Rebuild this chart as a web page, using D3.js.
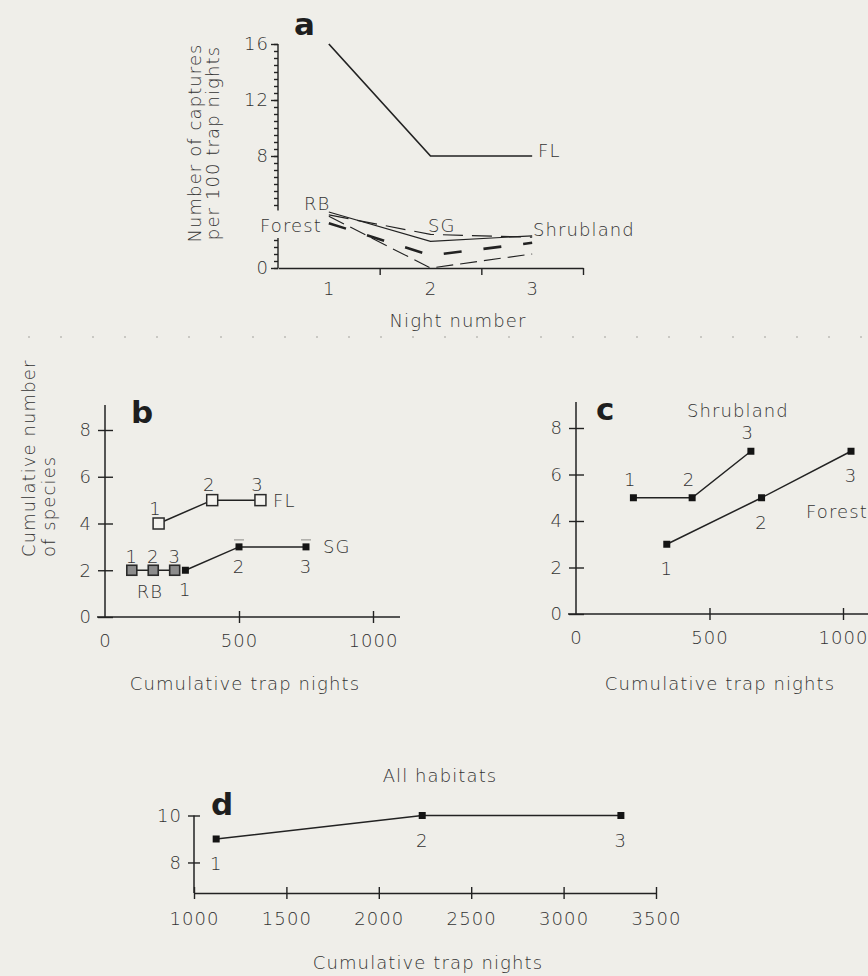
<!DOCTYPE html>
<html>
<head>
<meta charset="utf-8">
<script src="https://cdn.jsdelivr.net/npm/d3@7"></script>
<style>
  html, body { margin: 0; padding: 0; background: #efeee9; }
  svg { display: block; }
  text { font-family: "DejaVu Sans", sans-serif; font-weight: 200; fill: #333; letter-spacing: 1.1px; }
  .panel { font-family: "DejaVu Sans", sans-serif; font-weight: bold; fill: #1e1e1e; letter-spacing: 0; }
</style>
</head>
<body>
<script>
// ---- data ----
var nights = [1, 2, 3];
var capFL = [16, 8, 8];
var capShrub = [4.0, 1.9, 2.3];
var capSG = [3.8, 2.4, 2.2];
var capRB = [3.7, 0, 1.0];
var capForest = [3.2, 0.9, 1.8];

var bTrapFL = [200, 400, 580],  bSpFL = [4, 5, 5];
var bTrapRB = [100, 180, 260],  bSpRB = [2, 2, 2];
var bTrapSG = [300, 500, 750],  bSpSG = [2, 3, 3];

var cTrapShrub = [215, 435, 655],   cSpShrub = [5, 5, 7];
var cTrapForest = [340, 695, 1030], cSpForest = [3, 5, 7];

var dTrapAll = [1120, 2235, 3310], dSpAll = [9, 10, 10];

var aYLabels = [0, 8, 12, 16];
var aXLabels = [1, 2, 3];
var bcXTicks = [0, 500, 1000];
var bcYTicks = [0, 2, 4, 6, 8];
var dXTicks = [1000, 1500, 2000, 2500, 3000, 3500];
var dYTicks = [8, 10];

var ink = "#222";
var fs = 18;
var plain = d3.format("d");

var svg = d3.select("body").append("svg")
            .attr("width", 868)
            .attr("height", 976);

svg.append("rect").attr("width", 868).attr("height", 976).attr("fill", "#efeee9");

// faint dotted separator from the scan
svg.append("line")
   .attr("x1", 28).attr("x2", 868).attr("y1", 337).attr("y2", 337)
   .attr("stroke", "#c9c8c3").attr("stroke-width", 2)
   .attr("stroke-dasharray", "2,30");

function styleAxis(g) {
  g.selectAll("path, line").attr("stroke", ink).attr("stroke-width", 1.4);
  g.selectAll("text").attr("font-family", "DejaVu Sans, sans-serif")
   .attr("font-weight", 200).attr("font-size", fs).attr("fill", "#333");
}

function pts(xs, ys) { return xs.map(function(d, i) { return [d, ys[i]]; }); }

function label(x, y, str, anchor) {
  return svg.append("text").attr("x", x).attr("y", y).attr("font-size", fs)
            .attr("text-anchor", anchor || "start").text(str);
}

// ================= panel a =================
var xA = d3.scaleLinear().domain([0.5, 3.5]).range([278, 583]);
var yA = d3.scaleLinear().domain([0, 16]).range([268, 44]);

// x axis (ticks between nights, labels at nights)
svg.append("g").attr("transform", "translate(0,268)")
   .call(d3.axisBottom(xA).tickValues([1.5, 2.5, 3.5]).tickSize(7).tickSizeOuter(0).tickFormat(""))
   .call(styleAxis);
svg.append("g").attr("transform", "translate(0,268)")
   .call(d3.axisBottom(xA).tickValues(aXLabels).tickSize(0).tickPadding(14).tickFormat(plain))
   .call(function(g){ g.select(".domain").remove(); })
   .call(styleAxis);

// broken y axis with minor ticks
var minorUp = d3.range(4.5, 16.01, 0.5), minorLow = d3.range(0, 2.01, 0.5);
svg.append("g").attr("transform", "translate(278,0)")
   .call(d3.axisLeft(yA).tickValues(minorUp.concat(minorLow)).tickSize(4).tickFormat(""))
   .call(function(g){ g.select(".domain").remove(); })
   .call(styleAxis);
svg.append("g").attr("transform", "translate(278,0)")
   .call(d3.axisLeft(yA).tickValues(aYLabels).tickSize(7).tickPadding(2).tickFormat(plain))
   .call(function(g){ g.select(".domain").remove(); })
   .call(styleAxis);
[[16, 4.1], [2.15, 0]].forEach(function(s) {
  svg.append("line").attr("x1", 278).attr("x2", 278)
     .attr("y1", yA(s[0])).attr("y2", yA(s[1]))
     .attr("stroke", ink).attr("stroke-width", 1.4);
});

var lineA = d3.line().x(function(d){ return xA(d[0]); }).y(function(d){ return yA(d[1]); });
var aSeries = [
  {v: capFL,     w: 1.7, dash: null},
  {v: capShrub,  w: 1.2, dash: null},
  {v: capSG,     w: 1.2, dash: "20,9"},
  {v: capRB,     w: 1.1, dash: "17,7"},
  {v: capForest, w: 2.6, dash: "18,22"}
];
aSeries.forEach(function(s) {
  svg.append("path").datum(pts(nights, s.v))
     .attr("d", lineA).attr("fill", "none")
     .attr("stroke", ink).attr("stroke-width", s.w)
     .attr("stroke-dasharray", s.dash);
});

svg.append("text").attr("class", "panel").attr("x", 294).attr("y", 35).attr("font-size", 31).text("a");
label(538, 157, "FL");
label(533, 236, "Shrubland");
label(428, 232, "SG");
label(304, 210, "RB");
label(260, 232, "Forest");
label(458, 327, "Night number", "middle");
svg.append("text").attr("transform", "translate(201,143) rotate(-90)")
   .attr("text-anchor", "middle").attr("font-size", fs).text("Number of captures");
svg.append("text").attr("transform", "translate(219,143) rotate(-90)")
   .attr("text-anchor", "middle").attr("font-size", fs).text("per 100 trap nights");

// ================= panels b and c shared helpers =================
function speciesFrame(x, y, xMin, xMax, yTop) {
  svg.append("g").attr("transform", "translate(0," + y(0) + ")")
     .call(d3.axisBottom(x).tickValues(bcXTicks.slice(1)).tickSize(6).tickSizeOuter(0)
             .tickPadding(11).tickFormat(plain))
     .call(function(g){
        g.select(".domain").remove();
        g.selectAll(".tick line").attr("y1", -6);
     })
     .call(styleAxis);
  svg.append("g").attr("transform", "translate(0," + y(0) + ")")
     .call(d3.axisBottom(x).tickValues([0]).tickSize(0).tickPadding(17).tickFormat(plain))
     .call(function(g){ g.select(".domain").remove(); })
     .call(styleAxis);
  svg.append("line").attr("x1", xMin).attr("x2", xMax).attr("y1", y(0)).attr("y2", y(0))
     .attr("stroke", ink).attr("stroke-width", 1.5);
  svg.append("g").attr("transform", "translate(" + x(0) + ",0)")
     .call(d3.axisLeft(y).tickValues(bcYTicks).tickSize(7).tickPadding(6).tickFormat(plain))
     .call(function(g){
        g.select(".domain").remove();
        g.selectAll(".tick line").attr("x1", 8);
     })
     .call(styleAxis);
  svg.append("line").attr("x1", x(0)).attr("x2", x(0)).attr("y1", yTop).attr("y2", y(0))
     .attr("stroke", ink).attr("stroke-width", 1.5);
}

function drawSeries(x, y, xs, ys, marker) {
  var line = d3.line().x(function(d){ return x(d[0]); }).y(function(d){ return y(d[1]); });
  var data = pts(xs, ys);
  svg.append("path").datum(data).attr("d", line)
     .attr("fill", "none").attr("stroke", ink).attr("stroke-width", 1.5);
  svg.selectAll(null).data(data).enter().append("rect")
     .attr("x", function(d){ return x(d[0]) - marker.s / 2; })
     .attr("y", function(d){ return y(d[1]) - marker.s / 2; })
     .attr("width", marker.s).attr("height", marker.s)
     .attr("fill", marker.fill).attr("stroke", marker.stroke || "none")
     .attr("stroke-width", marker.sw || 0);
}

function nightLabels(x, y, xs, ys, dx, dy) {
  svg.selectAll(null).data(pts(xs, ys)).enter().append("text")
     .attr("x", function(d){ return x(d[0]) + dx; })
     .attr("y", function(d){ return y(d[1]) + dy; })
     .attr("text-anchor", "middle").attr("font-size", fs)
     .text(function(d, i){ return nights[i]; });
}

var solidSq = {s: 7, fill: "#141414"};

// ================= panel b =================
var xB = d3.scaleLinear().domain([0, 1000]).range([105, 373]);
var yB = d3.scaleLinear().domain([0, 8]).range([617, 430]);
speciesFrame(xB, yB, 97, 400, 405);

drawSeries(xB, yB, bTrapRB, bSpRB, {s: 10, fill: "#8c8c8c", stroke: "#2a2a2a", sw: 1.6});
drawSeries(xB, yB, bTrapSG, bSpSG, solidSq);
drawSeries(xB, yB, bTrapFL, bSpFL, {s: 11, fill: "#f4f3ef", stroke: "#2a2a2a", sw: 1.5});

// small caps above SG points
svg.selectAll(null).data(pts(bTrapSG.slice(1), bSpSG.slice(1))).enter().append("line")
   .attr("x1", function(d){ return xB(d[0]) - 5; }).attr("x2", function(d){ return xB(d[0]) + 5; })
   .attr("y1", function(d){ return yB(d[1]) - 7; }).attr("y2", function(d){ return yB(d[1]) - 7; })
   .attr("stroke", "#9a9a96").attr("stroke-width", 1.2);

nightLabels(xB, yB, bTrapFL, bSpFL, -3, -9);
nightLabels(xB, yB, bTrapRB, bSpRB, 0, -7);
nightLabels(xB, yB, bTrapSG, bSpSG, 0, 26);

svg.append("text").attr("class", "panel").attr("x", 131).attr("y", 423).attr("font-size", 31).text("b");
label(273, 507, "FL");
label(323, 553, "SG");
label(150, 598, "RB", "middle");
label(245, 690, "Cumulative trap nights", "middle");
svg.append("text").attr("transform", "translate(35,557) rotate(-90)")
   .attr("font-size", fs).text("Cumulative number");
svg.append("text").attr("transform", "translate(55,557) rotate(-90)")
   .attr("font-size", fs).text("of species");

// ================= panel c =================
var xC = d3.scaleLinear().domain([0, 1000]).range([576, 843]);
var yC = d3.scaleLinear().domain([0, 8]).range([614, 428]);
speciesFrame(xC, yC, 568, 868, 402);

drawSeries(xC, yC, cTrapShrub, cSpShrub, solidSq);
drawSeries(xC, yC, cTrapForest, cSpForest, solidSq);
nightLabels(xC, yC, cTrapShrub, cSpShrub, -3, -12);
nightLabels(xC, yC, cTrapForest, cSpForest, 0, 31);

svg.append("text").attr("class", "panel").attr("x", 596).attr("y", 420).attr("font-size", 31).text("c");
label(687, 417, "Shrubland");
label(806, 518, "Forest");
label(720, 690, "Cumulative trap nights", "middle");

// ================= panel d =================
var xD = d3.scaleLinear().domain([1000, 3500]).range([194, 656]);
var yD = d3.scaleLinear().domain([6.7, 10]).range([893, 815.5]);

svg.append("g").attr("transform", "translate(0,893)")
   .call(d3.axisBottom(xD).tickValues(dXTicks).tickSize(6).tickSizeOuter(0)
           .tickPadding(13).tickFormat(plain))
   .call(function(g){ g.selectAll(".tick line").attr("y1", -6); })
   .call(styleAxis);
svg.append("g").attr("transform", "translate(194,0)")
   .call(d3.axisLeft(yD).tickValues(dYTicks).tickSize(6).tickPadding(6).tickFormat(plain))
   .call(function(g){
      g.select(".domain").remove();
      g.selectAll(".tick line").attr("x1", 6);
   })
   .call(styleAxis);
svg.append("line").attr("x1", 194).attr("x2", 194).attr("y1", yD(10)).attr("y2", 893)
   .attr("stroke", ink).attr("stroke-width", 1.5);

drawSeries(xD, yD, dTrapAll, dSpAll, solidSq);
nightLabels(xD, yD, dTrapAll, dSpAll, 0, 31);

svg.append("text").attr("class", "panel").attr("x", 211).attr("y", 815).attr("font-size", 31).text("d");
label(440, 782, "All habitats", "middle");
label(428, 969, "Cumulative trap nights", "middle");
</script>
</body>
</html>
